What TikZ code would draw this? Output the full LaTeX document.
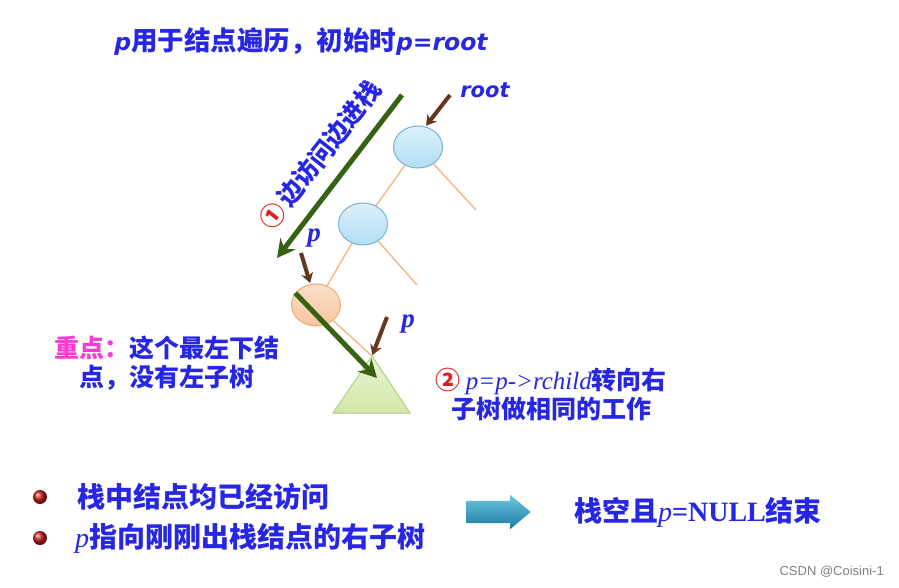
\documentclass[tikz,border=0pt]{standalone}
\usepackage{fontspec}
\setmainfont{Noto Sans CJK SC}
\newfontfamily\dejavu{DejaVu Sans}
\newfontfamily\tnr{Liberation Serif}
\newfontfamily\arial{Liberation Sans}
\usetikzlibrary{shapes.geometric,shapes.arrows,arrows.meta}
\definecolor{txtblue}{RGB}{38,38,228}
\definecolor{keypink}{RGB}{248,60,210}
\definecolor{numred}{RGB}{228,30,30}
\definecolor{gogreen}{RGB}{55,98,18}
\definecolor{ptrbrown}{RGB}{100,56,30}
\definecolor{edgeorange}{RGB}{240,185,135}
\definecolor{bluefill}{RGB}{178,222,244}
\definecolor{blueline}{RGB}{120,178,212}
\definecolor{orangefill}{RGB}{248,196,158}
\definecolor{orangeline}{RGB}{238,172,122}
\definecolor{trifill}{RGB}{210,232,168}
\definecolor{triline}{RGB}{178,212,138}
\definecolor{bulletred}{RGB}{200,28,28}
\tikzset{
  bluetext/.style={text=txtblue, inner sep=0pt},
  headtext/.style={bluetext, font=\bfseries\fontsize{26.5}{30}\selectfont},
  notetext/.style={bluetext, font=\bfseries\fontsize{25}{29}\selectfont},
  listtext/.style={bluetext, font=\bfseries\fontsize{28}{32}\selectfont},
  bluenode/.style={ellipse, draw=blueline, line width=1pt, top color=bluefill!45!white, bottom color=bluefill,
    minimum width=49pt, minimum height=42pt, inner sep=0pt},
  orangenode/.style={bluenode, draw=orangeline, top color=orangefill!55!white, bottom color=orangefill},
  treeedge/.style={draw=edgeorange, line width=1.4pt},
  pointer/.style={draw=ptrbrown, line width=4pt, -{Stealth[length=10pt,width=12pt]}},
  visit/.style={draw=gogreen, line width=5pt, -{Stealth[length=18pt,width=19pt,inset=6pt]}},
  blockarrow/.style={single arrow, single arrow head extend=6pt, single arrow tip angle=80, minimum height=64pt,
    inner xsep=0pt, inner ysep=11pt, top color={rgb,255:red,110;green,200;blue,226}, bottom color={rgb,255:red,24;green,122;blue,162}}
}
\begin{document}
\begin{tikzpicture}[x=1pt,y=-1pt]
\useasboundingbox[fill=white] (0,0) rectangle (899,588);
% title and the start pointer
\node (title) [headtext] at (301,42) {{\dejavu\fontsize{23.5}{27}\selectfont\itshape p}用于结点遍历，初始时{\dejavu\fontsize{23.5}{27}\selectfont\itshape p=root}};
\node (rootlbl) [bluetext, font=\dejavu\bfseries\itshape\fontsize{21}{25}\selectfont] at (485,90) {root};
% the tree
\coordinate (apex) at (372,356);
\filldraw[draw=triline, line width=1pt, top color=trifill!50!white, bottom color=trifill] (apex) -- (333,413) -- (410,413) -- cycle;
\node (rootnode) [bluenode] at (418,147) {};
\node (leftnode) [bluenode] at (363,224) {};
\node (lastnode) [orangenode] at (316,305) {};
\coordinate (rootright) at (476,210); \coordinate (leftright) at (417,285);
\draw[treeedge] (rootnode) -- (rootright); \draw[treeedge] (rootnode) -- (leftnode);
\draw[treeedge] (leftnode) -- (leftright); \draw[treeedge] (leftnode) -- (lastnode);
\draw[treeedge] (lastnode) -- (apex);
% pointers
\coordinate (rootptr) at (450,95); \coordinate (pptr) at (301,253); \coordinate (qptr) at (387,317);
\foreach \s/\t in {rootptr/rootnode.70, pptr/lastnode.105, qptr/apex} { \draw[pointer, shorten >=1pt] (\s) -- (\t); };
\node (plbl) [bluetext, font=\tnr\bfseries\itshape\fontsize{27}{30}\selectfont] at (314,238) {p};
\node (qlbl) [bluetext, font=\tnr\bfseries\itshape\fontsize{27}{30}\selectfont] at (408,324) {p};
% step 1 and step 2
\coordinate (pushfrom) at (402,95); \coordinate (pushto) at (277,258); \coordinate (turnto) at (377,378);
\draw[visit] (pushfrom) -- (pushto);
\draw[visit] (lastnode.150) -- (turnto);
\node (stepone) [notetext, rotate=52] at (320,155) {\textcolor{numred}{①}\,边访问边进栈};
\node (keynote) [notetext, align=center] at (167,363) {\textcolor{keypink}{重点：}这个最左下结\\点，没有左子树};
\node (steptwo) [notetext, align=center] at (551,394) {\textcolor{numred}{②}\ {\tnr\mdseries\itshape p=p->rchild}转向右\\子树做相同的工作};
% bottom lines
\foreach \y in {497,538} { \shade[ball color=bulletred] (40,\y) circle[radius=7]; };
\node (visited) [listtext, anchor=west] at (77,497) {栈中结点均已经访问};
\node (rightsub) [listtext, anchor=west] at (75,538) {{\tnr\mdseries\itshape p}指向刚刚出栈结点的右子树};
\node (toend) [blockarrow] at (492,512) {};
\node (finish) [listtext] at (698,512) {栈空且{\tnr\mdseries\itshape p}{\tnr =NULL}结束};
\node (mark) [anchor=east, text=gray, inner sep=0pt, font=\arial\fontsize{13}{15}\selectfont] at (884,572) {CSDN @Coisini-1};
\end{tikzpicture}
\end{document}
